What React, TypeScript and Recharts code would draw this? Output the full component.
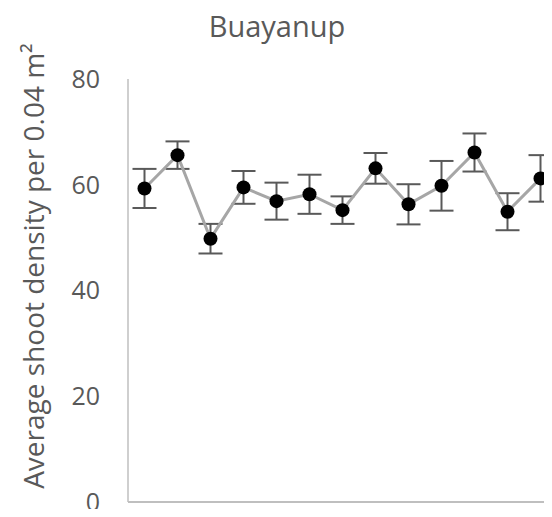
import React from 'react';
import { LineChart, Line, XAxis, YAxis, ErrorBar } from 'recharts';

const sites = ['1', '2', '3', '4', '5', '6', '7', '8', '9', '10', '11', '12', '13'];
const means = [59.3, 65.6, 49.8, 59.5, 56.9, 58.2, 55.2, 63.1, 56.3, 59.8, 66.1, 54.9, 61.2];
const errors = [3.7, 2.6, 2.8, 3.1, 3.5, 3.7, 2.6, 2.9, 3.8, 4.7, 3.6, 3.5, 4.4];
const yTicks = [0, 20, 40, 60, 80];

const data = sites.map((site, i) => ({ site, mean: means[i], err: errors[i] }));

const font = '"Open Sans", sans-serif';
const textColor = '#595959';
const axisColor = '#bfbfbf';

export default function App() {
  return (
    <div
      style={{
        position: 'relative',
        width: 552,
        height: 517,
        margin: -8,
        overflow: 'hidden',
        background: '#fff',
        fontFamily: font,
      }}
    >
      <div
        style={{
          position: 'absolute',
          left: 277,
          top: 25,
          transform: 'translate(-50%, -50%)',
          fontSize: 29,
          color: textColor,
          whiteSpace: 'nowrap',
        }}
      >
        Buayanup
      </div>
      <div
        style={{
          position: 'absolute',
          left: 33,
          top: 266,
          transform: 'translate(-50%, -50%) rotate(-90deg)',
          fontSize: 28,
          color: textColor,
          whiteSpace: 'nowrap',
        }}
      >
        Average shoot density per 0.04 m²
      </div>
      <div style={{ position: 'absolute', left: 0, top: 0 }}>
        <LineChart
          width={557}
          height={517}
          data={data}
          margin={{ top: 79, right: 0, bottom: 0, left: 0 }}
        >
          <XAxis
            dataKey="site"
            tick={false}
            tickLine={false}
            height={15}
            padding={{ left: 16.5, right: 16.5 }}
            axisLine={{ stroke: axisColor, strokeWidth: 2 }}
          />
          <YAxis
            width={128}
            domain={[0, 80]}
            ticks={yTicks}
            tickLine={false}
            tickSize={0}
            tickMargin={28}
            axisLine={{ stroke: axisColor, strokeWidth: 1.5 }}
            tick={{ fill: textColor, fontSize: 25, fontFamily: font }}
          />
          <Line
            dataKey="mean"
            stroke="#a6a6a6"
            strokeWidth={3}
            isAnimationActive={false}
            dot={{ r: 7, fill: '#000', stroke: 'none' }}
            activeDot={false}
          >
            <ErrorBar dataKey="err" width={12} stroke="#595959" strokeWidth={2} direction="y" />
          </Line>
        </LineChart>
      </div>
    </div>
  );
}
